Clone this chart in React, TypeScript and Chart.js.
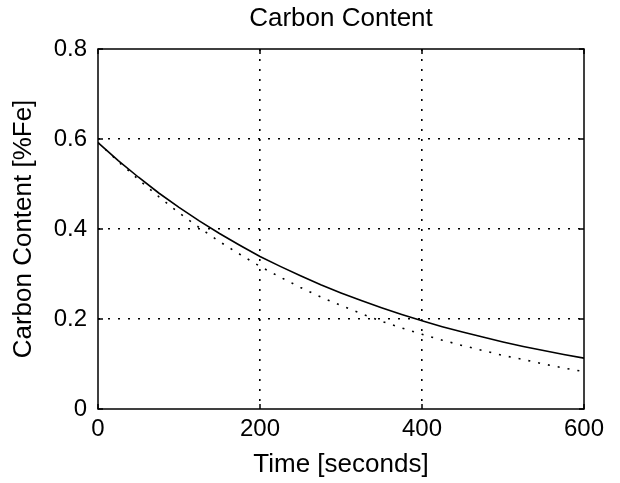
import React, { useEffect, useRef } from "react";
import { Chart, registerables } from "chart.js";

Chart.register(...registerables);

// Time in seconds
const times = [0, 25, 50, 75, 100, 125, 150, 175, 200, 225, 250, 275, 300, 325, 350, 375, 400, 425, 450, 475, 500, 525, 550, 575, 600];
// Solid curve (Carbon Content %Fe)
const solidValues = [0.592, 0.552, 0.515, 0.48, 0.448, 0.418, 0.39, 0.364, 0.339, 0.317, 0.296, 0.276, 0.258, 0.241, 0.225, 0.21, 0.196, 0.183, 0.171, 0.16, 0.149, 0.139, 0.13, 0.121, 0.113];
// Dotted curve
const dottedValues = [0.592, 0.55, 0.51, 0.472, 0.436, 0.403, 0.372, 0.344, 0.317, 0.293, 0.27, 0.249, 0.23, 0.212, 0.195, 0.18, 0.166, 0.153, 0.141, 0.13, 0.119, 0.11, 0.1, 0.091, 0.083];

const xTicks = [0, 200, 400, 600];
const yTicks = [0, 0.2, 0.4, 0.6, 0.8];

const FONT = "'Liberation Sans', Arial, sans-serif";

const boxPlugin = {
  id: "boxPlugin",
  afterDraw(chart: any) {
    const { ctx, chartArea } = chart;
    const { left, right, top, bottom } = chartArea;
    const xs = chart.scales.x;
    const ys = chart.scales.y;
    ctx.save();
    ctx.strokeStyle = "#000";
    ctx.lineWidth = 1.5;
    ctx.strokeRect(left, top, right - left, bottom - top);
    const tl = 5;
    ctx.beginPath();
    xTicks.forEach((v) => {
      const px = xs.getPixelForValue(v);
      ctx.moveTo(px, bottom);
      ctx.lineTo(px, bottom - tl);
      ctx.moveTo(px, top);
      ctx.lineTo(px, top + tl);
    });
    yTicks.forEach((v) => {
      const py = ys.getPixelForValue(v);
      ctx.moveTo(left, py);
      ctx.lineTo(left + tl, py);
      ctx.moveTo(right, py);
      ctx.lineTo(right - tl, py);
    });
    ctx.stroke();
    ctx.restore();
  },
};

export default function App() {
  const ref = useRef<HTMLCanvasElement>(null);
  useEffect(() => {
    if (!ref.current) return;
    const solidPts = times.map((t, i) => ({ x: t, y: solidValues[i] }));
    const dottedPts = times.map((t, i) => ({ x: t, y: dottedValues[i] }));
    const chart = new Chart(ref.current, {
      type: "line",
      data: {
        datasets: [
          {
            data: dottedPts,
            borderColor: "#000",
            borderWidth: 1.6,
            borderDash: [2, 8],
            pointRadius: 0,
            tension: 0,
            fill: false,
          },
          {
            data: solidPts,
            borderColor: "#000",
            borderWidth: 1.6,
            pointRadius: 0,
            tension: 0,
            fill: false,
          },
        ],
      },
      options: {
        animation: false,
        responsive: false,
        layout: { padding: { left: 0, top: 0, right: 36, bottom: 0 } },
        plugins: {
          legend: { display: false },
          tooltip: { enabled: false },
          title: { display: false },
        },
        scales: {
          xTop: {
            type: "linear",
            position: "top",
            min: 0,
            max: 600,
            afterFit(scale: any) {
              scale.height = 49;
            },
            ticks: { display: false },
            grid: { display: false, drawTicks: false },
            border: { display: false },
            title: {
              display: true,
              text: "Carbon Content",
              color: "#000",
              font: { family: FONT, size: 26 },
              padding: { top: 3, bottom: 0 },
            },
          },
          x: {
            type: "linear",
            position: "bottom",
            min: 0,
            max: 600,
            afterFit(scale: any) {
              scale.height = 74;
            },
            afterBuildTicks(scale: any) {
              scale.ticks = xTicks.map((v) => ({ value: v }));
            },
            ticks: {
              color: "#000",
              font: { family: FONT, size: 24 },
              padding: 6,
              maxRotation: 0,
            },
            grid: {
              color: (c: any) => (c.tick && (c.tick.value === 0 || c.tick.value === 600) ? "rgba(0,0,0,0)" : "#000"),
              lineWidth: 1.6,
              drawTicks: false,
            },
            border: { display: false, dash: [2, 8] },
            title: {
              display: true,
              text: "Time [seconds]",
              color: "#000",
              font: { family: FONT, size: 26 },
              padding: { top: 0, bottom: 3 },
            },
          },
          y: {
            type: "linear",
            min: 0,
            max: 0.8,
            afterFit(scale: any) {
              scale.width = 98;
            },
            afterBuildTicks(scale: any) {
              scale.ticks = yTicks.map((v) => ({ value: v }));
            },
            ticks: {
              color: "#000",
              font: { family: FONT, size: 24 },
              padding: 11,
            },
            grid: {
              color: (c: any) => (c.tick && (c.tick.value === 0 || Math.abs(c.tick.value - 0.8) < 1e-9) ? "rgba(0,0,0,0)" : "#000"),
              lineWidth: 1.6,
              drawTicks: false,
            },
            border: { display: false, dash: [2, 8] },
            title: {
              display: true,
              text: "Carbon Content [%Fe]",
              color: "#000",
              font: { family: FONT, size: 26 },
              padding: { top: 8, bottom: 0 },
            },
          },
        },
      },
      plugins: [boxPlugin],
    });
    return () => chart.destroy();
  }, []);
  return (
    <div style={{ position: "fixed", left: 0, top: 0, width: 620, height: 483, background: "#fff" }}>
      <canvas ref={ref} width={620} height={483} />
    </div>
  );
}
